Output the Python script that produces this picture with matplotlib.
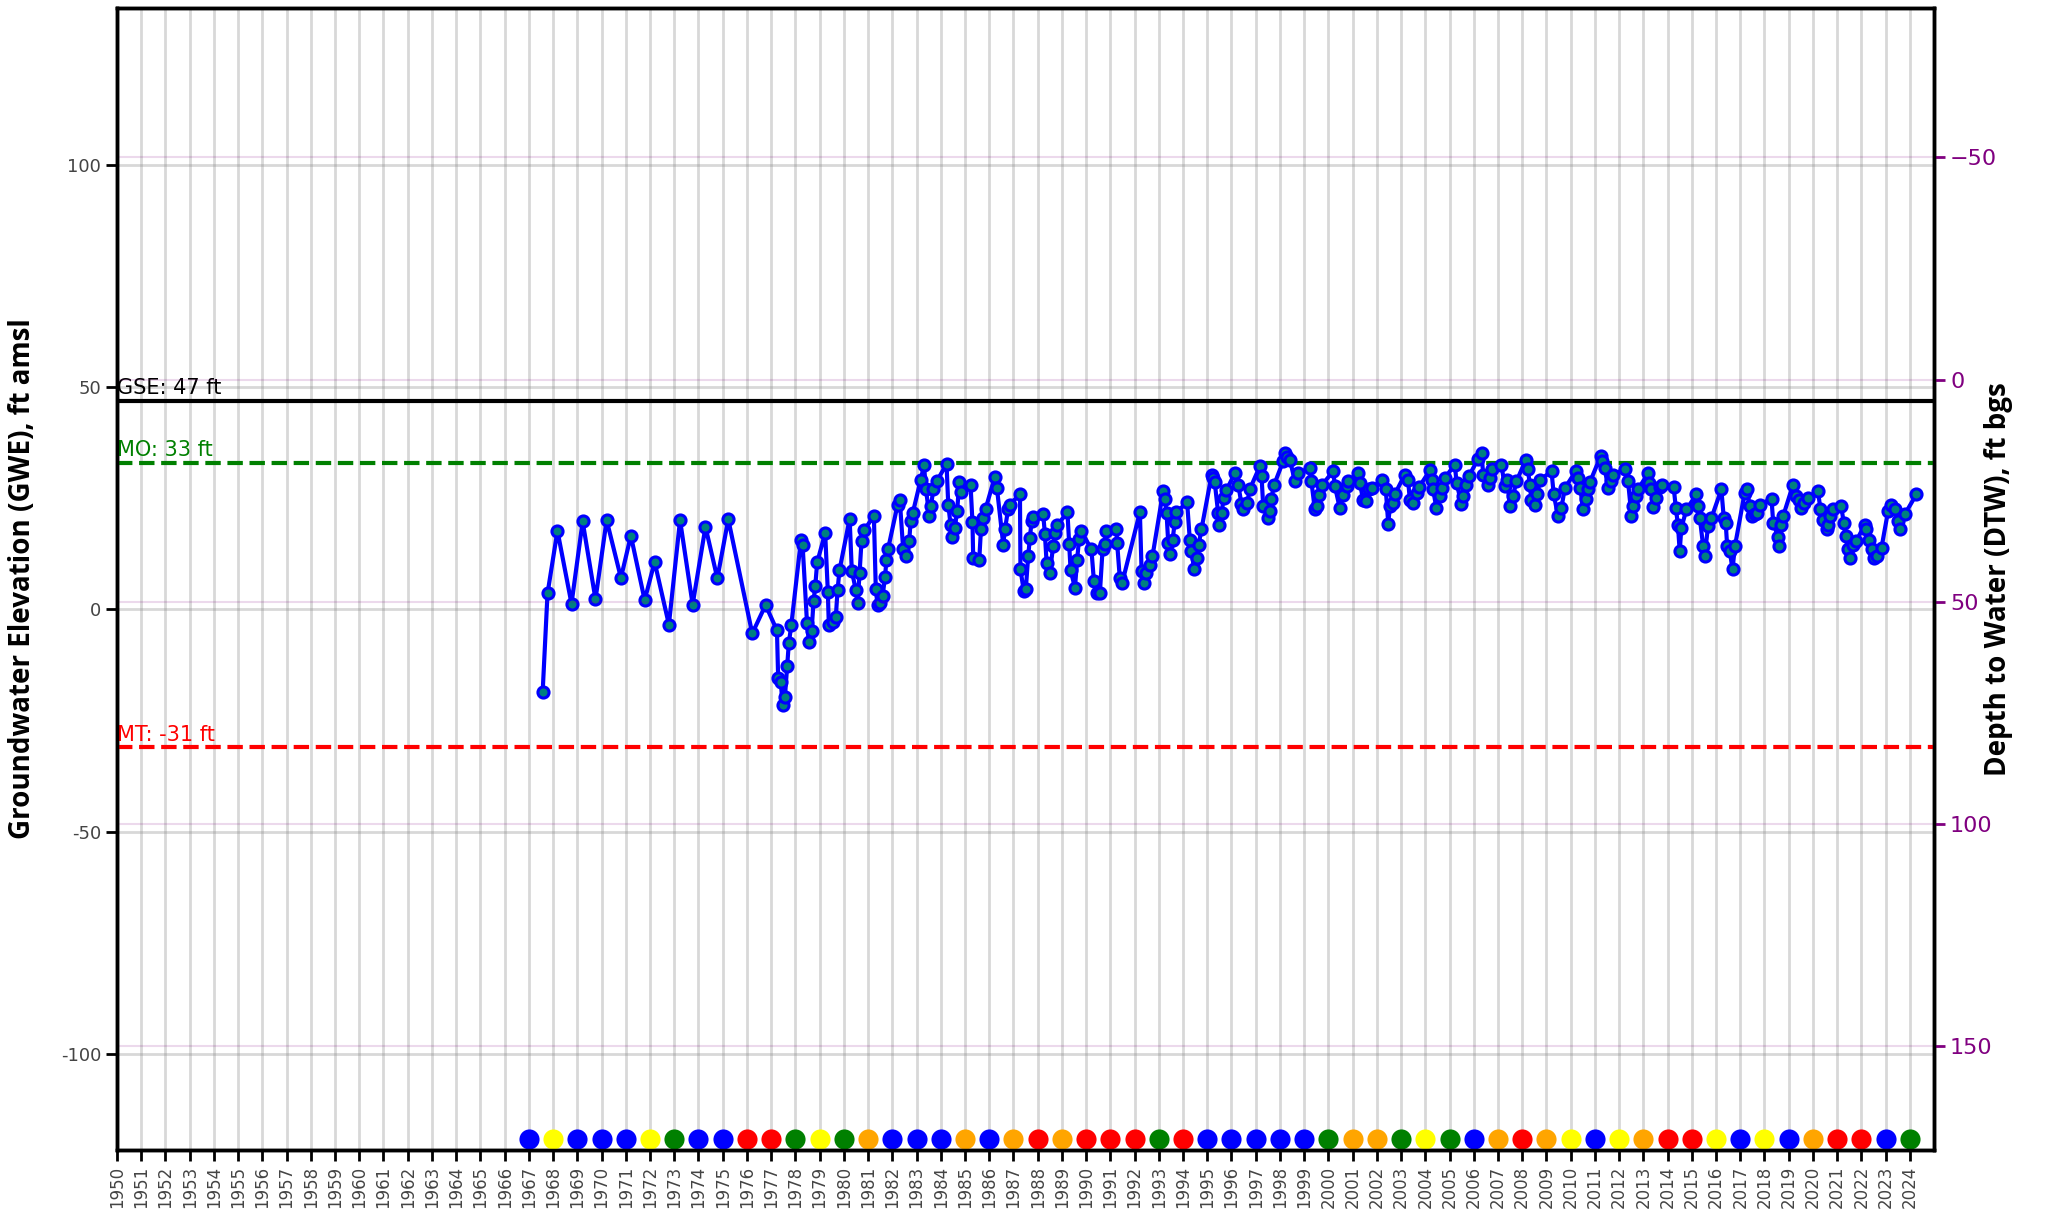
import matplotlib
matplotlib.use('Agg')
import matplotlib.pyplot as plt

# 地下水位观测 (十进制年份, GWE ft amsl)
obs_year = [
    1967.57, 1967.77, 1968.18, 1968.76, 1969.22, 1969.75, 1970.21, 1970.80, 1971.21, 1971.78,
    1972.19, 1972.78, 1973.24, 1973.76, 1974.29, 1974.78, 1975.23, 1976.22, 1976.77, 1977.24,
    1977.29, 1977.40, 1977.47, 1977.57, 1977.66, 1977.73, 1977.83, 1978.23, 1978.30, 1978.48,
    1978.56, 1978.67, 1978.75, 1978.82, 1978.90, 1979.23, 1979.34, 1979.38, 1979.55, 1979.67,
    1979.74, 1979.82, 1980.24, 1980.33, 1980.50, 1980.57, 1980.65, 1980.73, 1980.84, 1981.24,
    1981.32, 1981.39, 1981.49, 1981.60, 1981.70, 1981.76, 1981.83, 1982.22, 1982.31, 1982.45,
    1982.56, 1982.70, 1982.76, 1982.84, 1983.17, 1983.31, 1983.39, 1983.53, 1983.60, 1983.69,
    1983.83, 1984.24, 1984.31, 1984.41, 1984.47, 1984.58, 1984.68, 1984.76, 1984.83, 1985.23,
    1985.31, 1985.34, 1985.59, 1985.66, 1985.75, 1985.85, 1986.23, 1986.32, 1986.58, 1986.65,
    1986.78, 1986.85, 1987.27, 1987.29, 1987.43, 1987.51, 1987.61, 1987.68, 1987.75, 1987.82,
    1988.23, 1988.30, 1988.37, 1988.50, 1988.64, 1988.71, 1988.81, 1989.23, 1989.30, 1989.36,
    1989.54, 1989.63, 1989.71, 1989.81, 1990.22, 1990.32, 1990.46, 1990.57, 1990.68, 1990.77,
    1990.81, 1991.25, 1991.28, 1991.39, 1991.49, 1992.22, 1992.29, 1992.38, 1992.49, 1992.63,
    1992.74, 1993.18, 1993.25, 1993.32, 1993.39, 1993.48, 1993.57, 1993.66, 1993.73, 1994.17,
    1994.28, 1994.35, 1994.46, 1994.56, 1994.64, 1994.76, 1995.18, 1995.24, 1995.31, 1995.45,
    1995.49, 1995.59, 1995.68, 1995.79, 1996.14, 1996.28, 1996.41, 1996.48, 1996.65, 1996.76,
    1997.17, 1997.24, 1997.31, 1997.49, 1997.58, 1997.65, 1997.75, 1998.13, 1998.20, 1998.30,
    1998.41, 1998.62, 1998.75, 1999.23, 1999.30, 1999.44, 1999.51, 1999.62, 1999.72, 2000.20,
    2000.27, 2000.47, 2000.61, 2000.75, 2000.82, 2001.23, 2001.30, 2001.43, 2001.57, 2001.68,
    2001.78, 2002.23, 2002.37, 2002.47, 2002.54, 2002.65, 2002.74, 2003.15, 2003.29, 2003.36,
    2003.50, 2003.64, 2003.75, 2004.19, 2004.26, 2004.32, 2004.46, 2004.60, 2004.71, 2004.81,
    2005.22, 2005.29, 2005.49, 2005.56, 2005.67, 2005.81, 2006.18, 2006.32, 2006.39, 2006.59,
    2006.69, 2006.77, 2007.14, 2007.28, 2007.38, 2007.49, 2007.62, 2007.76, 2008.15, 2008.24,
    2008.31, 2008.38, 2008.52, 2008.61, 2008.75, 2009.21, 2009.30, 2009.48, 2009.62, 2009.76,
    2010.21, 2010.31, 2010.40, 2010.51, 2010.62, 2010.72, 2010.79, 2011.24, 2011.31, 2011.41,
    2011.54, 2011.68, 2011.75, 2012.23, 2012.37, 2012.51, 2012.58, 2012.69, 2012.78, 2013.20,
    2013.24, 2013.33, 2013.40, 2013.54, 2013.68, 2013.79, 2014.25, 2014.34, 2014.43, 2014.50,
    2014.57, 2014.78, 2015.19, 2015.26, 2015.33, 2015.47, 2015.53, 2015.67, 2015.81, 2016.22,
    2016.32, 2016.40, 2016.46, 2016.57, 2016.68, 2016.78, 2017.18, 2017.28, 2017.39, 2017.50,
    2017.60, 2017.70, 2017.80, 2018.29, 2018.36, 2018.56, 2018.60, 2018.70, 2018.77, 2019.18,
    2019.32, 2019.43, 2019.52, 2019.62, 2019.80, 2020.21, 2020.31, 2020.42, 2020.56, 2020.63,
    2020.70, 2020.83, 2021.17, 2021.27, 2021.35, 2021.45, 2021.52, 2021.66, 2021.79, 2022.14,
    2022.21, 2022.32, 2022.42, 2022.51, 2022.65, 2022.83, 2023.10, 2023.24, 2023.38, 2023.51,
    2023.61, 2023.79, 2024.27,
]
obs_gwe = [
    -18.5, 3.6, 17.7, 1.3, 19.8, 2.3, 20.1, 7.1, 16.6, 2.1,
    10.7, -3.4, 20.1, 1.1, 18.6, 7.0, 20.3, -5.4, 1.0, -4.7,
    -15.5, -16.3, -21.6, -19.6, -12.7, -7.6, -3.6, 15.6, 14.4, -3.0,
    -7.3, -4.9, 1.9, 5.2, 10.6, 17.2, 4.0, -3.4, -2.8, -1.7,
    4.3, 8.8, 20.4, 8.6, 4.3, 1.5, 8.2, 15.4, 17.8, 21.1,
    4.5, 1.1, 1.5, 3.0, 7.3, 11.2, 13.7, 23.6, 24.6, 13.5,
    12.1, 15.5, 20.0, 21.6, 29.1, 32.4, 27.0, 21.1, 23.2, 27.0,
    28.8, 32.7, 23.6, 18.9, 16.3, 18.4, 22.2, 28.6, 26.4, 28.1,
    19.6, 11.6, 11.2, 18.0, 20.6, 22.6, 29.8, 27.3, 14.6, 18.0,
    22.5, 23.6, 25.9, 9.0, 4.1, 4.5, 12.0, 16.1, 19.9, 20.8,
    21.4, 16.9, 10.5, 8.2, 14.2, 17.2, 18.9, 21.9, 14.8, 8.8,
    4.9, 11.2, 15.9, 17.6, 13.5, 6.5, 3.8, 3.8, 13.5, 14.8,
    17.6, 18.0, 15.0, 7.1, 6.0, 21.9, 8.6, 6.0, 8.2, 10.1,
    12.0, 26.6, 24.9, 21.7, 15.0, 12.4, 15.7, 19.6, 21.9, 24.1,
    15.7, 13.1, 9.0, 11.6, 14.4, 18.0, 30.3, 29.6, 28.6, 21.7,
    18.9, 21.7, 25.1, 26.8, 30.7, 28.1, 23.8, 22.6, 24.0, 27.1,
    32.2, 30.1, 23.2, 20.6, 22.1, 24.9, 27.9, 33.3, 35.1, 34.3,
    33.7, 28.8, 30.7, 31.8, 28.8, 22.5, 23.2, 25.8, 27.9, 31.1,
    27.7, 22.8, 25.8, 27.7, 28.8, 30.7, 28.5, 24.7, 24.4, 27.0,
    27.3, 29.2, 27.0, 19.3, 23.2, 24.0, 25.9, 30.3, 29.2, 24.7,
    24.0, 26.2, 27.6, 31.3, 29.2, 27.0, 22.8, 25.5, 27.3, 29.6,
    32.6, 28.5, 23.8, 25.5, 27.9, 30.1, 33.9, 35.3, 30.3, 28.1,
    29.6, 31.5, 32.6, 27.7, 29.2, 23.2, 25.5, 28.8, 33.7, 31.5,
    28.1, 24.7, 23.4, 25.9, 29.2, 31.1, 25.9, 21.0, 22.9, 27.3,
    31.1, 29.6, 27.3, 22.5, 24.9, 27.0, 28.6, 34.5, 33.3, 31.8,
    27.3, 28.8, 30.3, 31.6, 28.8, 21.0, 23.2, 25.5, 27.0, 30.7,
    28.5, 27.0, 23.1, 25.1, 27.6, 28.1, 27.6, 22.9, 18.9, 13.1,
    18.4, 22.5, 25.9, 23.2, 20.6, 14.2, 12.0, 18.7, 20.6, 27.0,
    20.6, 19.5, 14.2, 13.1, 9.0, 14.2, 26.2, 27.1, 23.2, 21.0,
    21.4, 21.7, 23.6, 24.9, 19.5, 16.3, 14.2, 19.1, 21.0, 28.1,
    25.5, 24.7, 22.9, 24.0, 25.1, 26.6, 22.5, 20.2, 18.0, 19.1,
    21.0, 22.5, 23.2, 19.5, 16.5, 13.5, 11.6, 14.6, 15.4, 19.1,
    18.0, 15.7, 13.5, 11.6, 12.0, 13.9, 22.1, 23.4, 22.5, 19.9,
    18.0, 21.4, 25.9,
]

# 水文年类型
wy_year = list(range(1967, 2025))
wy_type = [
    'W', 'BN', 'W', 'W', 'W', 'BN', 'AN', 'W', 'W', 'C',
    'C', 'AN', 'BN', 'AN', 'D', 'W', 'W', 'W', 'D', 'W',
    'D', 'C', 'D', 'C', 'C', 'C', 'AN', 'C', 'W', 'W',
    'W', 'W', 'W', 'AN', 'D', 'D', 'AN', 'BN', 'AN', 'W',
    'D', 'C', 'D', 'BN', 'W', 'BN', 'D', 'C', 'C', 'BN',
    'W', 'BN', 'W', 'D', 'C', 'C', 'W', 'AN',
]
type_color = {'W': 'blue', 'AN': 'green', 'BN': 'yellow', 'D': 'orange', 'C': 'red'}

gse = 47
mo = 33
mt = -31
dtw_ref = 51.7

year_ticks = list(range(1950, 2025))
gwe_ticks = [100, 50, 0, -50, -100]
dtw_ticks = [-50, 0, 50, 100, 150]

fig = plt.figure(figsize=(20.56, 12.19), dpi=100)
ax = fig.add_axes([0.0569, 0.0566, 0.8838, 0.9368])

ymin = min(obs_gwe) - 100
ymax = max(obs_gwe) + 100

# 参考线
ax.axhline(gse, color='black', lw=3, zorder=3)
ax.axhline(mo, color='green', lw=3, ls='--', zorder=3)
ax.axhline(mt, color='red', lw=3, ls='--', zorder=3)
ax.text(1950, gse + 0.6, f'GSE: {gse} ft', color='black', fontsize=15, va='bottom', ha='left')
ax.text(1950, mo + 0.6, f'MO: {mo} ft', color='green', fontsize=15, va='bottom', ha='left')
ax.text(1950, mt + 0.6, f'MT: {mt} ft', color='red', fontsize=15, va='bottom', ha='left')

# 水位过程线
ax.plot(obs_year, obs_gwe, '-o', color='blue', lw=3, ms=8,
        mfc='#008080', mec='blue', mew=2.2, zorder=5)

# 水文年圆点
dot_y = ymin + 2.5
for yr, t in zip(wy_year, wy_type):
    ax.plot(yr, dot_y, 'o', color=type_color[t], ms=14.5, mec='none', zorder=6)

ax.set_xlim(1950, 2025)
ax.set_ylim(ymin, ymax)
ax.set_xticks(year_ticks)
ax.set_xticklabels([str(y) for y in year_ticks], rotation=90, fontsize=12, color='#444444')
ax.set_yticks(gwe_ticks)
ax.set_yticklabels([str(v) for v in gwe_ticks], fontsize=13, color='#444444')
ax.tick_params(axis='both', length=8, width=2)
ax.grid(True, color='grey', alpha=0.3, lw=2)
for s in ax.spines.values():
    s.set_linewidth(2.5)

ax.set_ylabel('Groundwater Elevation (GWE), ft amsl', fontsize=20,
              fontweight='bold', family='Open Sans')
ax.yaxis.set_label_coords(-0.044, 0.5)

ax2 = ax.twinx()
ax2.set_ylim(dtw_ref - ymin, dtw_ref - ymax)
ax2.set_yticks(dtw_ticks)
ax2.tick_params(axis='y', colors='purple', labelsize=16, length=8, width=2)
ax2.grid(True, axis='y', color='purple', alpha=0.15, lw=1.5)
for s in ax2.spines.values():
    s.set_linewidth(2.5)
ax2.set_ylabel('Depth to Water (DTW), ft bgs', fontsize=20,
               fontweight='bold', family='Open Sans')
ax2.yaxis.set_label_coords(1.0275, 0.5)

fig.savefig('out.png', dpi=100)
